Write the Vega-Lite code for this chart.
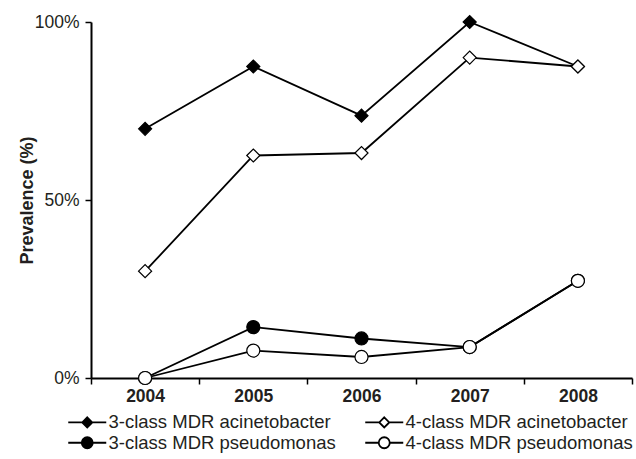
{
  "$schema": "https://vega.github.io/schema/vega-lite/v6.json",
  "width": 541,
  "height": 356,
  "autosize": "none",
  "padding": {"left": 91, "top": 22, "right": 4, "bottom": 81},
  "background": "white",
  "config": {
    "view": {"stroke": null},
    "font": "Liberation Sans"
  },
  "data": {
    "values": [
      {"year": "2004", "series": "3-class MDR acinetobacter", "value": 0.70},
      {"year": "2005", "series": "3-class MDR acinetobacter", "value": 0.875},
      {"year": "2006", "series": "3-class MDR acinetobacter", "value": 0.737},
      {"year": "2007", "series": "3-class MDR acinetobacter", "value": 1.0},
      {"year": "2008", "series": "3-class MDR acinetobacter", "value": 0.875},
      {"year": "2004", "series": "3-class MDR pseudomonas", "value": 0.0},
      {"year": "2005", "series": "3-class MDR pseudomonas", "value": 0.143},
      {"year": "2006", "series": "3-class MDR pseudomonas", "value": 0.111},
      {"year": "2007", "series": "3-class MDR pseudomonas", "value": 0.087},
      {"year": "2008", "series": "3-class MDR pseudomonas", "value": 0.273},
      {"year": "2004", "series": "4-class MDR acinetobacter", "value": 0.30},
      {"year": "2005", "series": "4-class MDR acinetobacter", "value": 0.625},
      {"year": "2006", "series": "4-class MDR acinetobacter", "value": 0.632},
      {"year": "2007", "series": "4-class MDR acinetobacter", "value": 0.90},
      {"year": "2008", "series": "4-class MDR acinetobacter", "value": 0.875},
      {"year": "2004", "series": "4-class MDR pseudomonas", "value": 0.0},
      {"year": "2005", "series": "4-class MDR pseudomonas", "value": 0.077},
      {"year": "2006", "series": "4-class MDR pseudomonas", "value": 0.059},
      {"year": "2007", "series": "4-class MDR pseudomonas", "value": 0.087},
      {"year": "2008", "series": "4-class MDR pseudomonas", "value": 0.273}
    ]
  },
  "encoding": {
    "x": {
      "field": "year", "type": "ordinal", "bandPosition": 0.5,
      "scale": {"type": "band", "paddingInner": 0, "paddingOuter": 0},
      "axis": {
        "title": null, "labelAngle": 0, "tickBand": "extent",
        "domainColor": "black", "domainWidth": 2, "tickColor": "black", "tickWidth": 1.5, "tickSize": 6,
        "labelFont": "Liberation Sans", "labelFontSize": 17.5, "labelFontWeight": "bold", "labelColor": "#231f20",
        "labelPadding": 3
      }
    },
    "y": {
      "field": "value", "type": "quantitative",
      "scale": {"domain": [0, 1], "nice": false},
      "axis": {
        "title": "Prevalence (%)", "values": [0, 0.5, 1], "format": ".0%", "grid": false,
        "domainColor": "black", "domainWidth": 2, "tickColor": "black", "tickWidth": 1.5, "tickSize": 6,
        "labelFont": "Liberation Sans", "labelFontSize": 17.5, "labelColor": "#231f20", "labelPadding": 6,
        "titleFont": "Liberation Sans", "titleFontSize": 18, "titleFontWeight": "bold", "titleColor": "#231f20",
        "titleX": -64, "titleY": 178, "titleAlign": "center", "titleBaseline": "middle", "titleAngle": -90
      }
    }
  },
  "layer": [
    {
      "mark": {"type": "line", "strokeWidth": 1.8},
      "encoding": {
        "color": {
          "field": "series", "type": "nominal",
          "scale": {
            "domain": ["3-class MDR acinetobacter", "3-class MDR pseudomonas", "4-class MDR acinetobacter", "4-class MDR pseudomonas"],
            "range": ["black", "black", "black", "black"]
          },
          "legend": {
            "title": null, "orient": "none", "legendX": -13, "legendY": 391, "columns": 2,
            "symbolSize": 100, "labelFont": "Liberation Sans", "labelFontSize": 18.5, "labelColor": "#231f20",
            "labelLimit": 400, "labelOffset": 12, "columnPadding": 25, "rowPadding": 1.5,
            "symbolStrokeWidth": 1.8,
            "encode": {
              "symbols": {
                "update": {
                  "shape": {"signal": "indexof(datum.value, 'acinetobacter') >= 0 ? 'M-3.8,0L-1,0M1,0L3.8,0M0,-1L1,0L0,1L-1,0Z' : 'M-3.8,0L-1.1,0M1.1,0L3.8,0M-1.1,0A1.1,1.1 0 1,0 1.1,0A1.1,1.1 0 1,0 -1.1,0Z'"},
                  "fill": {"signal": "indexof(datum.value, '3-class') == 0 ? 'black' : 'white'"},
                  "stroke": {"value": "black"},
                  "strokeWidth": {"value": 1.8},
                  "opacity": {"value": 1}
                }
              }
            }
          }
        },
        "detail": {"field": "series"}
      }
    },
    {
      "transform": [{"filter": "datum.series == '3-class MDR acinetobacter'"}],
      "mark": {"type": "point", "shape": "diamond", "filled": true, "fill": "black", "stroke": "black", "strokeWidth": 1.2, "size": 170, "opacity": 1}
    },
    {
      "transform": [{"filter": "datum.series == '3-class MDR pseudomonas'"}],
      "mark": {"type": "point", "shape": "circle", "filled": true, "fill": "black", "stroke": "black", "strokeWidth": 1.2, "size": 170, "opacity": 1}
    },
    {
      "transform": [{"filter": "datum.series == '4-class MDR acinetobacter'"}],
      "mark": {"type": "point", "shape": "diamond", "filled": true, "fill": "white", "stroke": "black", "strokeWidth": 1.2, "size": 170, "opacity": 1}
    },
    {
      "transform": [{"filter": "datum.series == '4-class MDR pseudomonas'"}],
      "mark": {"type": "point", "shape": "circle", "filled": true, "fill": "white", "stroke": "black", "strokeWidth": 1.2, "size": 170, "opacity": 1}
    }
  ]
}
